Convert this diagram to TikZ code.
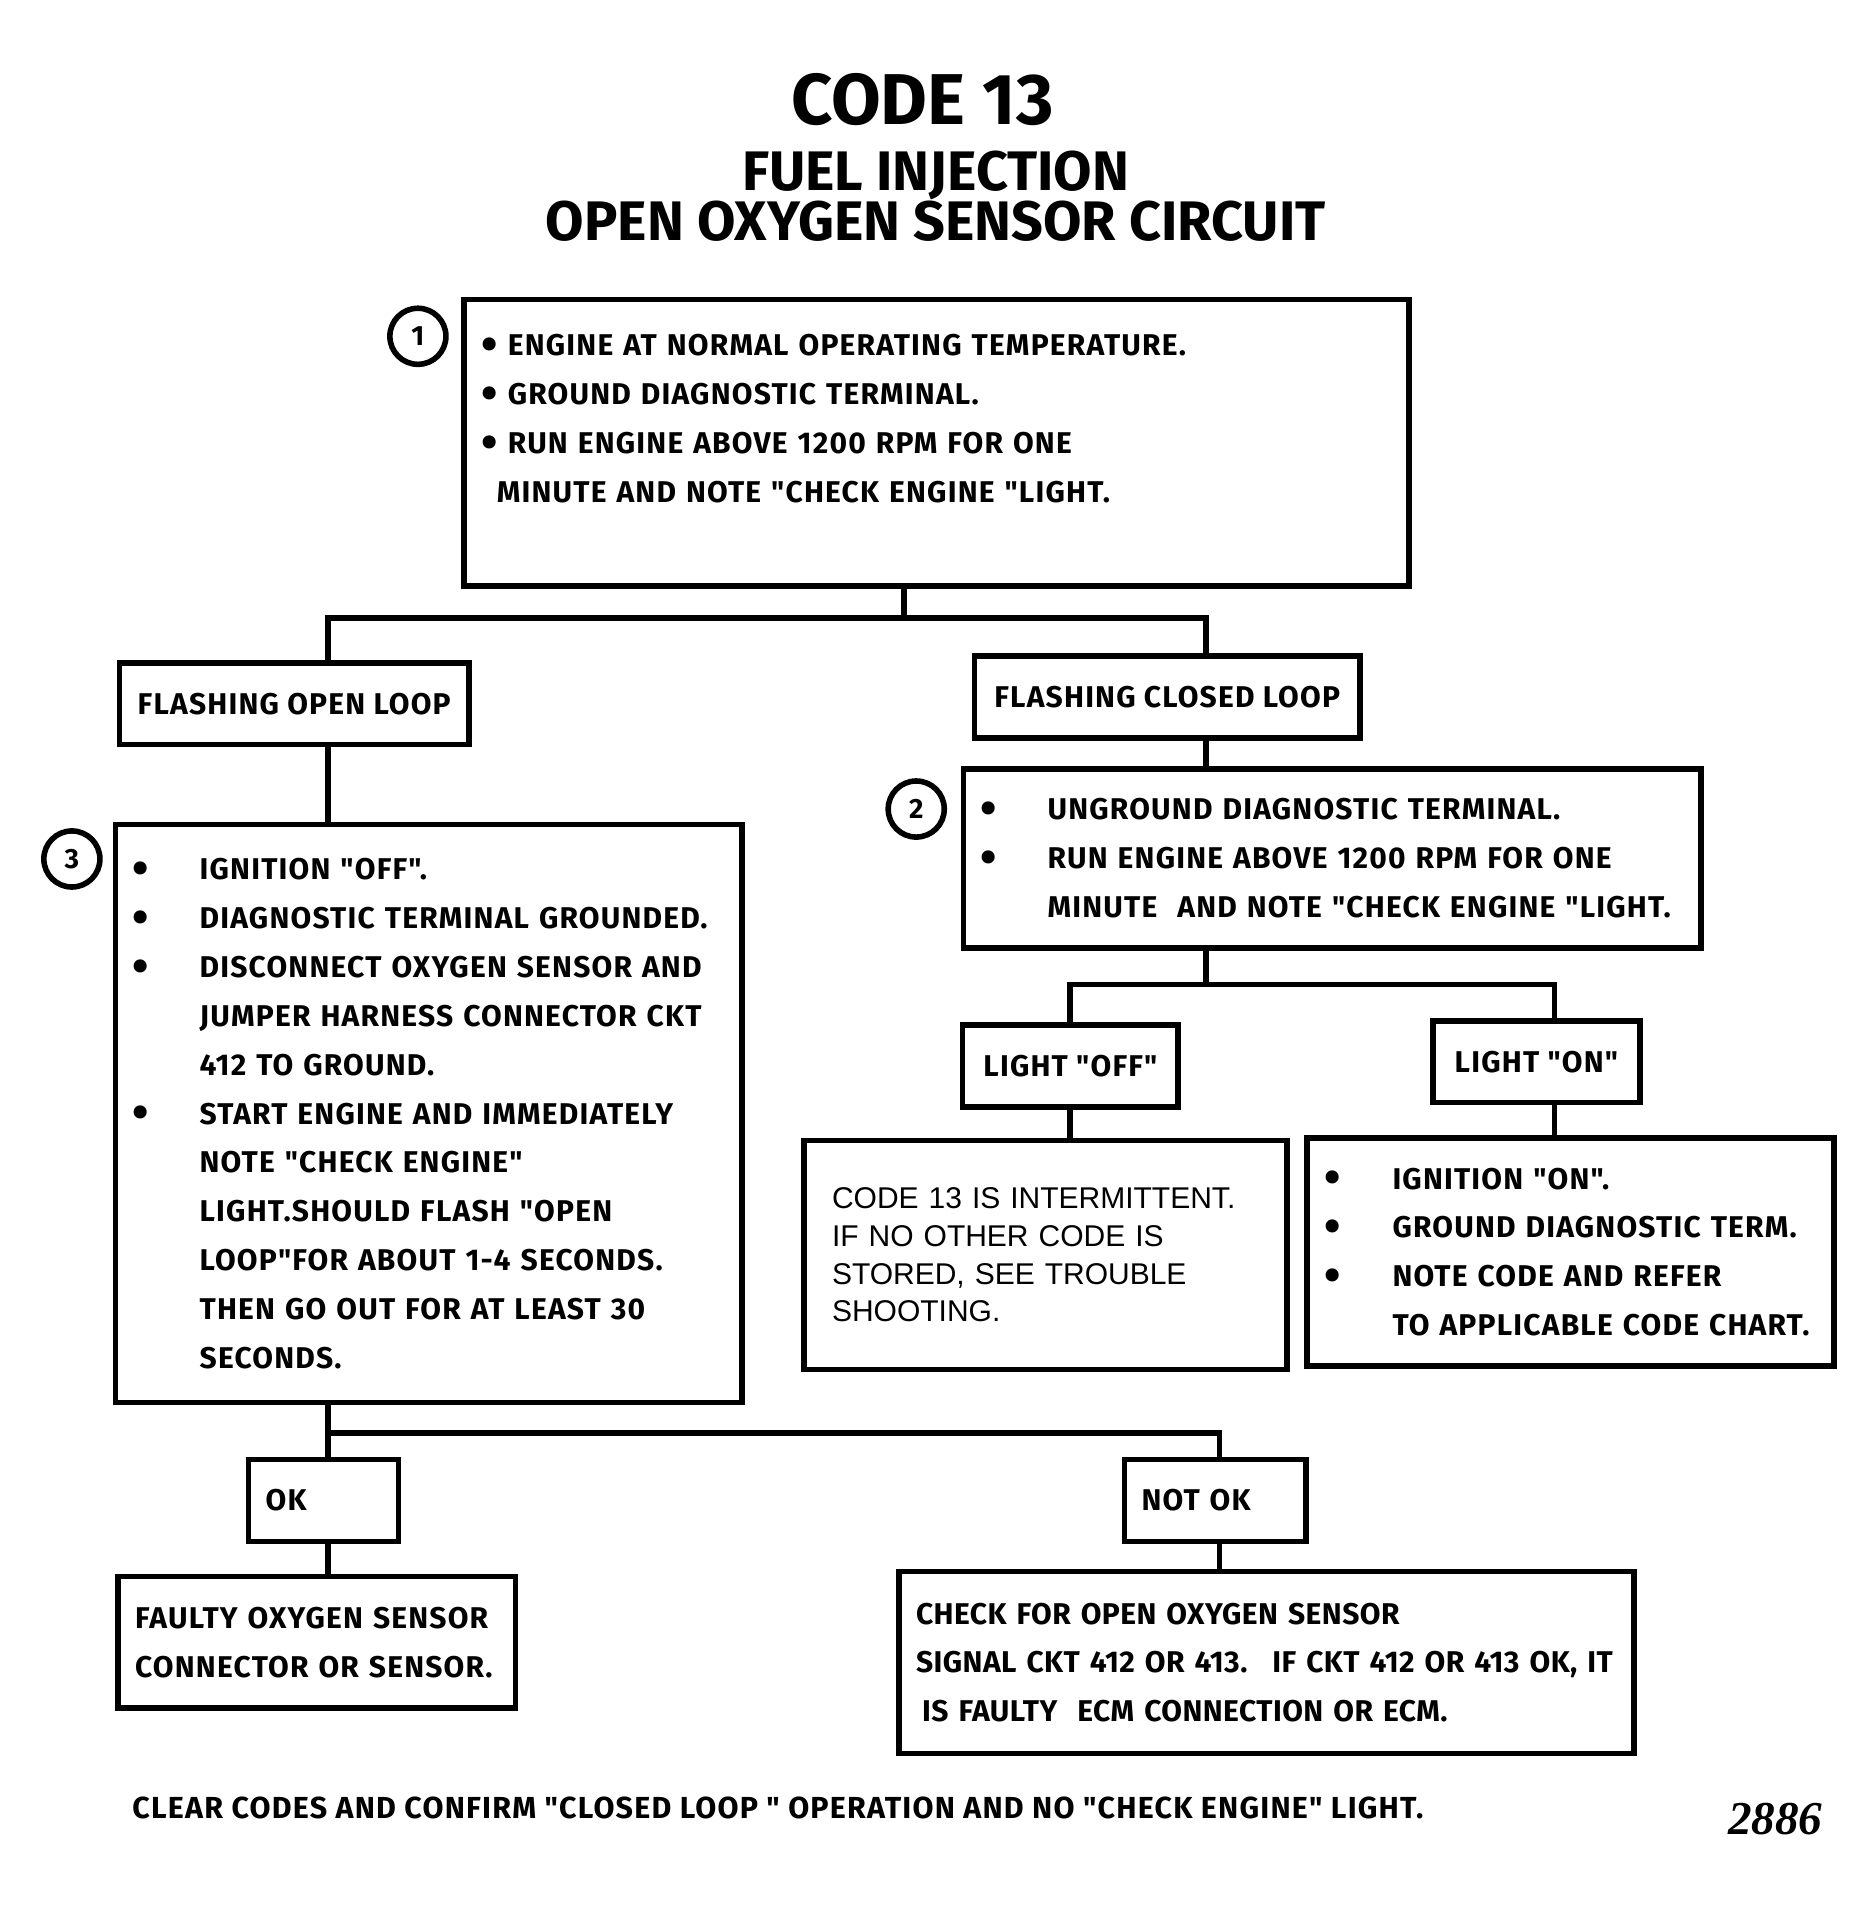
\documentclass[tikz,border=0pt]{standalone}
\usepackage{fontspec}
\setmainfont{Fira Sans}
\newfontfamily\boitefont{Fira Sans}[LetterSpace=4]
\newfontfamily\serrefont{Fira Sans}[LetterSpace=1.5]
\newfontfamily\helvetique{Liberation Sans}
\newfontfamily\romain{Liberation Serif}

% puce suivie d'un retrait fixe
\newcommand{\puce}[1]{\makebox[#1][l]{\raisebox{-0.3ex}{\fontsize{11}{11}\selectfont\textbullet}}}

\begin{document}
\begin{tikzpicture}[x=0.01cm,y=-0.01cm]
% Les styles des boîtes et des traits
\tikzstyle{trait}=[line width=1.3pt]
\tikzstyle{boite}=[draw,rectangle,line width=1.3pt,inner xsep=0.14cm,inner ysep=0pt,
                   align=left,font=\boitefont\bfseries\fontsize{7}{11.4}\selectfont]
\tikzstyle{etiquette}=[boite,minimum height=0.67cm,align=center]
\tikzstyle{cercle}=[draw,circle,line width=1.3pt,minimum size=0.46cm,inner sep=0pt,
                    font=\bfseries\fontsize{6.5}{7}\selectfont]

\useasboundingbox (0,0) rectangle (1536,1566);

% Le titre
\node (titre) at (757,82) {\bfseries\fontsize{16.8}{20}\selectfont CODE 13};
\node[align=center,font=\bfseries\fontsize{13}{11.7}\selectfont] (soustitre) at (768,161)
    {FUEL INJECTION\\OPEN OXYGEN SENSOR CIRCUIT};

% Les grandes boîtes
\node[boite,text width=7.47cm,minimum height=2.35cm] (etape1) at (768.5,363.5)
    {\puce{0.22cm}ENGINE AT NORMAL OPERATING TEMPERATURE.\\
     \puce{0.22cm}GROUND DIAGNOSTIC TERMINAL.\\
     \puce{0.22cm}RUN ENGINE ABOVE 1200 RPM FOR ONE\\
     \hspace*{0.13cm}MINUTE AND NOTE "CHECK ENGINE "LIGHT.\\ \mbox{}};
\node[boite,text width=5.77cm,minimum height=1.47cm] (etape2) at (1093.5,704.5)
    {\puce{0.55cm}UNGROUND DIAGNOSTIC TERMINAL.\\
     \puce{0.55cm}RUN ENGINE ABOVE 1200 RPM FOR ONE\\
     \hspace*{0.55cm}MINUTE \ AND NOTE "CHECK ENGINE "LIGHT.};
\node[boite,text width=4.86cm,minimum height=4.74cm] (etape3) at (352,914)
    {\puce{0.55cm}IGNITION "OFF".\\
     \puce{0.55cm}DIAGNOSTIC TERMINAL GROUNDED.\\
     \puce{0.55cm}DISCONNECT OXYGEN SENSOR AND\\
     \hspace*{0.55cm}JUMPER HARNESS CONNECTOR CKT\\
     \hspace*{0.55cm}412 TO GROUND.\\
     \puce{0.55cm}START ENGINE AND IMMEDIATELY\\
     \hspace*{0.55cm}NOTE "CHECK ENGINE"\\
     \hspace*{0.55cm}LIGHT.SHOULD FLASH "OPEN\\
     \hspace*{0.55cm}LOOP"FOR ABOUT 1-4 SECONDS.\\
     \hspace*{0.55cm}THEN GO OUT FOR AT LEAST 30\\
     \hspace*{0.55cm}SECONDS.};
\node[boite,text width=3.50cm,minimum height=1.88cm,inner xsep=0.23cm,
      font=\helvetique\fontsize{7}{8.8}\selectfont] (intermittent) at (858,1030)
    {CODE 13 IS INTERMITTENT.\\
     IF NO OTHER CODE IS\\
     STORED, SEE TROUBLE\\
     SHOOTING.};
\node[boite,text width=4.04cm,minimum height=1.87cm] (allume) at (1289,1027.5)
    {\puce{0.56cm}IGNITION "ON".\\
     \puce{0.56cm}GROUND DIAGNOSTIC TERM.\\
     \puce{0.56cm}NOTE CODE AND REFER\\
     \hspace*{0.56cm}TO APPLICABLE CODE CHART.};
\node[boite,text width=2.98cm,minimum height=1.08cm] (capteur) at (260,1348)
    {FAULTY OXYGEN SENSOR\\
     CONNECTOR OR SENSOR.};
\node[boite,text width=5.75cm,minimum height=1.49cm,
      font=\serrefont\bfseries\fontsize{7}{11.4}\selectfont] (circuit) at (1039.5,1364.5)
    {CHECK FOR OPEN OXYGEN SENSOR\\
     SIGNAL CKT 412 OR 413. \ IF CKT 412 OR 413 OK, IT\\
     \hspace*{0.05cm}IS FAULTY \ ECM CONNECTION OR ECM.};

% Les petites étiquettes
\foreach \x/\y/\w/\nom/\texte in {241.5/577.5/2.87/ouvert/FLASHING OPEN LOOP,
                                  958/572/3.16/ferme/FLASHING CLOSED LOOP,
                                  878.5/875/1.77/eteint/LIGHT "OFF",
                                  1261/871.5/1.70/allumee/LIGHT "ON"}{
    \node[etiquette,minimum width=\w cm] (\nom) at (\x,\y) {\texte};
}
\node[boite,text width=0.95cm,minimum height=0.67cm] (ok) at (265.5,1231.5) {OK};
\node[boite,text width=1.21cm,minimum height=0.67cm] (nonok) at (997.5,1231.5) {NOT OK};

% Les numéros d'étape
\foreach \x/\y/\num in {343/276/1, 752/664/2, 59/705/3}{
    \node[cercle] (c\num) at (\x,\y) {\num};
}

% Les points de jonction
\coordinate (j1) at (742,507);
\coordinate (ja) at (269,507);
\coordinate (jb) at (990,507);
\coordinate (j2) at (990,808);
\coordinate (jc) at (878,808);
\coordinate (jd) at (1276,808);
\coordinate (je) at (269,1176);
\coordinate (jf) at (1001,1176);

% Les liaisons
\draw[trait] (j1 |- etape1.south) -- (j1);
\draw[trait] (ja |- ouvert.north) -- (ja) -- (jb) -- (jb |- ferme.north);
\draw[trait] (ja |- ouvert.south) -- (ja |- etape3.north);
\draw[trait] (jb |- ferme.south) -- (jb |- etape2.north);
\draw[trait] (j2 |- etape2.south) -- (j2);
\draw[trait] (jc |- eteint.north) -- (jc) -- (jd) -- (jd |- allumee.north);
\draw[trait] (jc |- eteint.south) -- (jc |- intermittent.north);
\draw[trait] (jd |- allumee.south) -- (jd |- allume.north);
\draw[trait] (je |- etape3.south) -- (je) -- (jf) -- (jf |- nonok.north);
\draw[trait] (je) -- (je |- ok.north);
\draw[trait] (je |- ok.south) -- (je |- capteur.north);
\draw[trait] (jf |- nonok.south) -- (jf |- circuit.north);

% Le pied de page
\node[anchor=west,inner sep=0pt,font=\boitefont\bfseries\fontsize{7.1}{8}\selectfont] (pied) at (108,1484)
    {CLEAR CODES AND CONFIRM "CLOSED LOOP " OPERATION AND NO "CHECK ENGINE" LIGHT.};
\node[font=\romain\itshape\bfseries\fontsize{11}{12}\selectfont] (numero) at (1457,1493) {2886};
\end{tikzpicture}
\end{document}
